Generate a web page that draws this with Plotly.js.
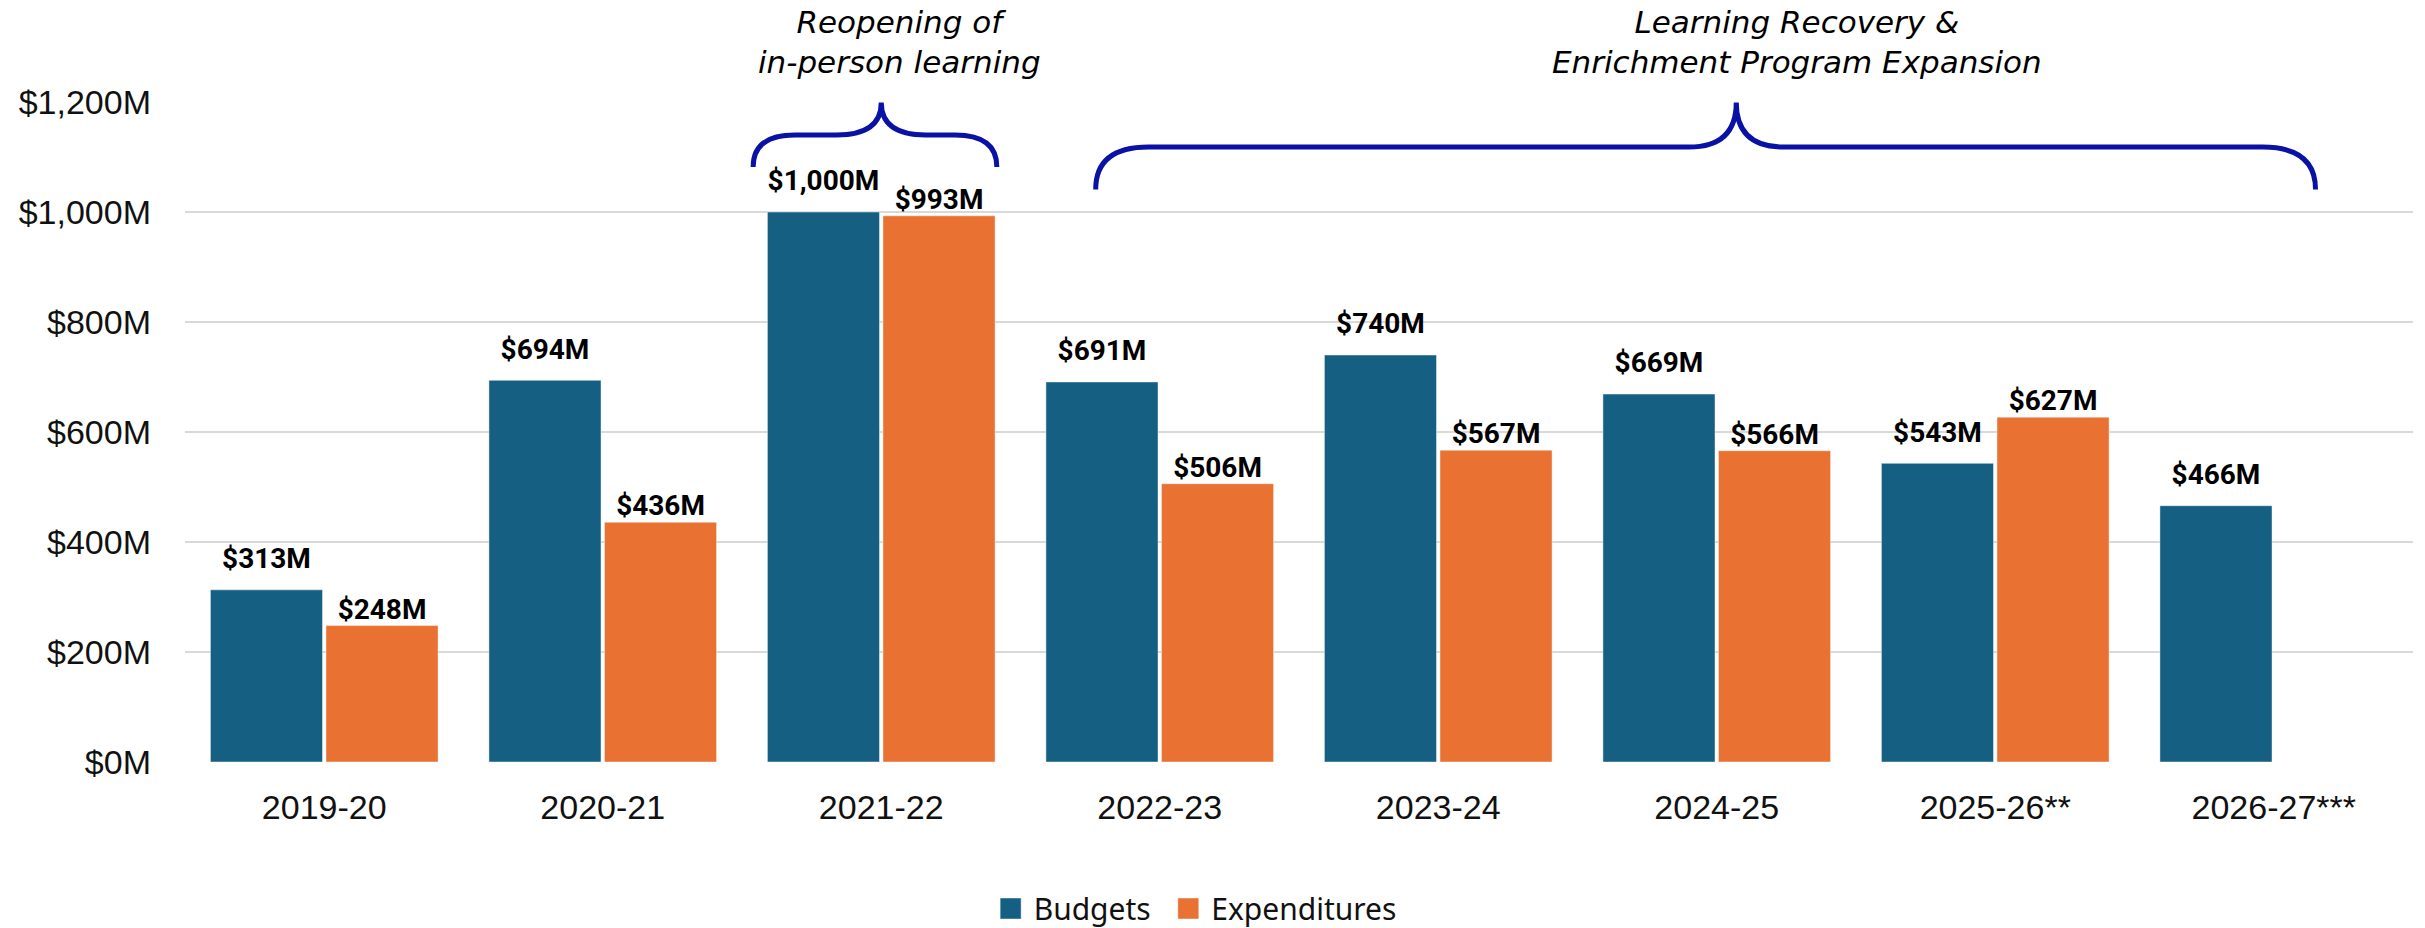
<!DOCTYPE html>
<html>
<head>
<meta charset="utf-8">
<script src="https://cdn.plot.ly/plotly-3.0.1.min.js"></script>
<style>
html,body{margin:0;padding:0;background:#fff;}
#chart{width:2425px;height:928px;}
</style>
</head>
<body>
<div id="chart"></div>
<script>
var categories = ['2019-20','2020-21','2021-22','2022-23','2023-24','2024-25','2025-26**','2026-27***'];
var budgets = [313, 694, 1000, 691, 740, 669, 543, 466];
var expenditures = [248, 436, 993, 506, 567, 566, 627, null];
var yTicks = [0, 200, 400, 600, 800, 1000, 1200];
var yTickText = ['$0M', '$200M', '$400M', '$600M', '$800M', '$1,000M', '$1,200M'];
var seriesNames = ['Budgets', 'Expenditures'];
var note1 = 'Reopening of<br>in-person learning';
var note2 = 'Learning Recovery &<br>Enrichment Program Expansion';

var BLUE = '#156082', ORANGE = '#E97132', BRACE = '#0A12A6';
var GAP = 0.17;
var LABEL_FONT = {family:'Roboto', size:28, color:'#000', weight:'bold'};
var NOTE_FONT = {family:'DejaVu Sans', size:31, style:'italic', color:'#000'};

var traces = [
  {type:'bar', name:seriesNames[0] + '\u00a0\u00a0', x:categories, y:budgets,
   marker:{color:BLUE, line:{color:'rgba(255,255,255,0.45)', width:1}}, hoverinfo:'skip'},
  {type:'bar', name:seriesNames[1], x:categories, y:expenditures,
   marker:{color:ORANGE, line:{color:'rgba(255,255,255,0.45)', width:1}}, hoverinfo:'skip'},
  {type:'scatter', mode:'markers+text', x:categories, y:budgets, showlegend:false,
   marker:{size:22, opacity:0}, texttemplate:'$%{y:,}M', textposition:'top center',
   textfont:LABEL_FONT, cliponaxis:false, hoverinfo:'skip'},
  {type:'scatter', mode:'text', x:categories, y:expenditures, showlegend:false,
   texttemplate:'$%{y:,}M', textposition:'top center',
   textfont:LABEL_FONT, cliponaxis:false, hoverinfo:'skip'}
];

function brace(x0, x1, xt, yEnd, yH, yTip, a, b){
  return 'M' + x0 + ',' + yEnd +
    ' Q' + x0 + ',' + yH + ' ' + (x0 + a) + ',' + yH +
    ' L' + (xt - b) + ',' + yH +
    ' Q' + xt + ',' + yH + ' ' + xt + ',' + yTip +
    ' Q' + xt + ',' + yH + ' ' + (xt + b) + ',' + yH +
    ' L' + (x1 - a) + ',' + yH +
    ' Q' + x1 + ',' + yH + ' ' + x1 + ',' + yEnd;
}

var layout = {
  width:2425, height:928,
  margin:{l:185, r:12, t:102, b:166, autoexpand:false},
  paper_bgcolor:'#fff', plot_bgcolor:'#fff',
  barmode:'group', bargap:GAP, bargroupgap:0.03,
  scattermode:'group', scattergap:GAP,
  showlegend:true,
  legend:{orientation:'h', x:0.4545, xanchor:'center', y:-0.222, yanchor:'middle',
          font:{family:'Noto Sans', size:30, color:'#111'}, itemclick:false},
  xaxis:{type:'category', showgrid:false, zeroline:false, showline:false, ticks:'',
         tickfont:{family:'Liberation Sans', size:34, color:'#111'}, ticklabelstandoff:22},
  yaxis:{range:[0,1200], tickmode:'array', tickvals:yTicks, ticktext:yTickText,
         showgrid:true, gridcolor:'#D9D9D9', gridwidth:2, zeroline:false, showline:false, ticks:'',
         tickfont:{family:'Liberation Sans', size:34, color:'#111'}, ticklabelstandoff:33},
  shapes:[
    {type:'path', xref:'x', yref:'y', path:brace(1.54, 2.415, 2.0, 1082, 1140, 1199, 0.15, 0.16),
     line:{color:BRACE, width:5}},
    {type:'path', xref:'x', yref:'y', path:brace(2.77, 7.15, 5.07, 1041, 1118, 1199, 0.19, 0.17),
     line:{color:BRACE, width:5}}
  ],
  annotations:[
    {xref:'paper', yref:'paper', x:0.3205, y:1.151, xanchor:'center', yanchor:'top', align:'center',
     text:note1, showarrow:false, font:NOTE_FONT},
    {xref:'paper', yref:'paper', x:0.7235, y:1.151, xanchor:'center', yanchor:'top', align:'center',
     text:note2, showarrow:false, font:NOTE_FONT}
  ]
};

Plotly.newPlot('chart', traces, layout, {staticPlot:true, displayModeBar:false}).then(function(gd){
  var paths = gd.querySelectorAll('.legend .legendpoints path');
  for (var i = 0; i < paths.length; i++) {
    paths[i].setAttribute('d', 'M7.5,10.5H-13.5V-10.5H7.5Z');
  }
});
</script>
</body>
</html>
